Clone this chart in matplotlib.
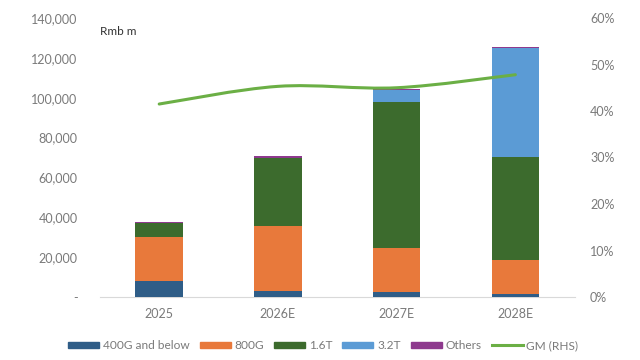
import matplotlib
matplotlib.use("Agg")
from matplotlib import pyplot as plt
from matplotlib.path import Path
from matplotlib.patches import PathPatch
from matplotlib.ticker import FuncFormatter, PercentFormatter
from matplotlib.lines import Line2D
from matplotlib.patches import Patch
import numpy as np

anos = ["2025", "2026E", "2027E", "2028E"]
g400 = [8000, 3000, 2500, 1500]
g800 = [22000, 32500, 22300, 17000]
t16 = [7300, 34500, 73300, 51700]
t32 = [0, 0, 5700, 54500]
outros = [400, 600, 500, 500]
gm = [41.5, 45.3, 45.0, 47.8]

series = [("400G and below", g400, "#2F5D87"),
          ("800G", g800, "#E8793B"),
          ("1.6T", t16, "#3C6B2D"),
          ("3.2T", t32, "#5B9BD5"),
          ("Others", outros, "#8E3A8E")]
cor_gm = "#6BAF45"
cinza = "#7A7A7A"

plt.rcParams["font.family"] = ["Lato", "DejaVu Sans"]

fig = plt.figure(figsize=(6.4, 3.6), dpi=100)
ax = fig.add_axes([0.156, 0.175, 0.742, 0.775])
ax2 = ax.twinx()

x = np.arange(len(anos))
base = np.zeros(len(anos))
for nome, vals, cor in series:
    ax.bar(x, vals, 0.4, bottom=base, color=cor, zorder=3)
    base = base + np.array(vals)

ax.set_xlim(-0.5, 3.5)
ax.set_ylim(0, 140000)
ax.set_yticks(range(0, 140001, 20000))
ax.yaxis.set_major_formatter(FuncFormatter(lambda v, p: "-" if v == 0 else f"{int(v):,}"))
ax.set_xticks(x)
ax.set_xticklabels(anos)

# Linha suavizada (estilo Excel) via curvas de Bezier
ax2.set_ylim(0, 60)
ax2.set_yticks(range(0, 61, 10))
ax2.yaxis.set_major_formatter(PercentFormatter(decimals=0))
pts = np.column_stack([x, gm]).astype(float)
verts = [tuple(pts[0])]
codes = [Path.MOVETO]
for i in range(len(pts) - 1):
    p0 = pts[i - 1] if i > 0 else pts[i]
    p3 = pts[i + 2] if i + 2 < len(pts) else pts[i + 1]
    c1 = pts[i] + (pts[i + 1] - p0) / 6
    c2 = pts[i + 1] - (p3 - pts[i]) / 6
    verts += [tuple(c1), tuple(c2), tuple(pts[i + 1])]
    codes += [Path.CURVE4] * 3
ax2.add_patch(PathPatch(Path(verts, codes), fill=False, edgecolor=cor_gm,
                        linewidth=2.2, capstyle="round", zorder=4))

for a in (ax, ax2):
    for s in a.spines.values():
        s.set_visible(False)
    a.tick_params(length=0, colors=cinza, labelsize=9)
ax.spines["bottom"].set_visible(True)
ax.spines["bottom"].set_color("#D9D9D9")
ax.tick_params(axis="y", pad=16)
ax.tick_params(axis="x", pad=8)
ax2.tick_params(axis="y", pad=11)

ax.text(-0.5, 133000, "Rmb m", fontsize=8.5, color="#333333", va="center")

handles = [Patch(color=c, label=n) for n, v, c in series]
handles.append(Line2D([], [], color=cor_gm, linewidth=2.2, label="GM (RHS)"))
fig.legend(handles=handles, loc="center", bbox_to_anchor=(0.505, 0.04), ncol=6,
           frameon=False, fontsize=8.6, handlelength=2.6, handleheight=0.45,
           handletextpad=0.3, columnspacing=0.85, labelcolor=cinza)

fig.savefig("out.png", dpi=100)
